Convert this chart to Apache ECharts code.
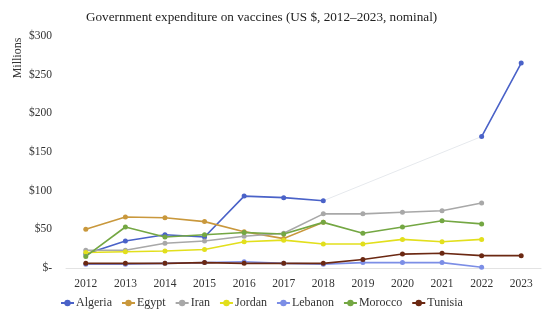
<!DOCTYPE html>
<html><head><meta charset="utf-8">
<script src="https://cdn.jsdelivr.net/npm/echarts@6/dist/echarts.min.js"></script>
<style>html,body{margin:0;padding:0;background:#fff}#c{width:550px;height:320px}</style>
</head><body><div id="c"></div>
<script>
const years = ['2012','2013','2014','2015','2016','2017','2018','2019','2020','2021','2022','2023'];
const algeria = [18, 35, 43, 40, 93, 91, 87, null, null, null, 170, 265];
const egypt   = [50, 66, 65, 60, 47, 38, 59, null, null, null, null, null];
const iran    = [23, 23, 32, 35, 41, 45, 70, 70, 72, 74, 84, null];
const jordan  = [20, 21, 22, 24, 34, 36, 31, 31, 37, 34, 37, null];
const lebanon = [5, 5, 6, 7, 8, 6, 5, 7, 7, 7, 1, null];
const morocco = [15, 53, 40, 43, 46, 44, 59, 45, 53, 61, 57, null];
const tunisia = [6, 6, 6, 7, 6, 6, 6, 11, 18, 19, 16, 16];
const algeriaGap = [null, null, null, null, null, null, 87, null, null, null, 170, null];
const yTicks = [0, 50, 100, 150, 200, 250, 300];

const serif = '"Liberation Serif", "DejaVu Serif", serif';
const chart = echarts.init(document.getElementById('c'));
function s(name, data, color) {
  return {
    name, type: 'line', data, symbol: 'circle', symbolSize: 5,
    lineStyle: { width: 1.6, color }, itemStyle: { color },
    connectNulls: false, z: 3
  };
}
chart.setOption({
  animation: false,
  title: {
    text: 'Government expenditure on vaccines (US $, 2012\u20132023, nominal)',
    left: 81, top: 6,
    textStyle: { fontFamily: serif, fontSize: 13.2, fontWeight: 'normal', color: '#222' }
  },
  graphic: [{
    type: 'text', x: 18, y: 58, rotation: Math.PI / 2,
    style: { text: 'Millions', font: '12px ' + serif, fill: '#333', align: 'center', verticalAlign: 'middle' }
  }],
  grid: { left: 66, right: 9, top: 36, bottom: 52 },
  legend: {
    bottom: 6, left: 55, itemWidth: 13, itemHeight: 8, itemGap: 9,
    data: ['Algeria','Egypt','Iran','Jordan','Lebanon','Morocco','Tunisia'],
    textStyle: { fontFamily: serif, fontSize: 12, color: '#333', padding: [0, 0, 0, -3] }
  },
  xAxis: {
    type: 'category', data: years, boundaryGap: true,
    axisLine: { lineStyle: { color: '#e3e3e3' } },
    axisTick: { show: false },
    axisLabel: { fontFamily: serif, fontSize: 11.5, color: '#333', margin: 10 }
  },
  yAxis: {
    type: 'value', min: 0, max: 300, interval: 50,
    splitLine: { show: false },
    axisLine: { show: false }, axisTick: { show: false },
    axisLabel: {
      fontFamily: serif, fontSize: 11.5, color: '#333', margin: 14,
      formatter: v => v === 0 ? '$-' : '$' + v
    }
  },
  series: [
    { name: 'gap', type: 'line', data: algeriaGap, connectNulls: true, symbol: 'none',
      lineStyle: { width: 1, color: '#e6e9ed' }, z: 1, silent: true },
    s('Algeria', algeria, '#4a62c8'),
    s('Egypt', egypt, '#c9983c'),
    s('Iran', iran, '#a8a8a8'),
    s('Jordan', jordan, '#e2df1c'),
    s('Lebanon', lebanon, '#7c8ee6'),
    s('Morocco', morocco, '#74a743'),
    s('Tunisia', tunisia, '#6b2812')
  ]
});
</script></body></html>
